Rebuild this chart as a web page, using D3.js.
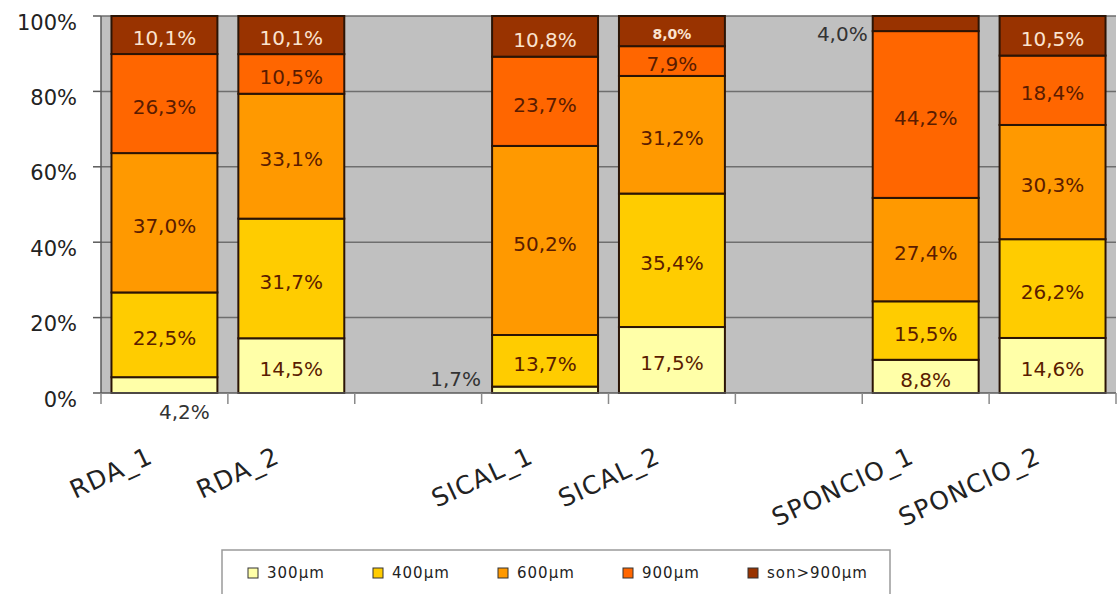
<!DOCTYPE html>
<html>
<head>
<meta charset="utf-8">
<script src="https://cdn.jsdelivr.net/npm/d3@7"></script>
<style>
  html, body { margin: 0; padding: 0; background: #ffffff; }
  svg { display: block; }
</style>
</head>
<body>
<svg id="chart" width="1118" height="594"></svg>
<script>
// Sample groups; null marks an empty slot between groups
const categories = ["RDA_1", "RDA_2", null, "SICAL_1", "SICAL_2", null, "SPONCIO_1", "SPONCIO_2"];

// Share of each particle-size class (%) per sample
const seriesNames = ["300µm", "400µm", "600µm", "900µm", "son>900µm"];
const v300  = [4.2, 14.5, null, 1.7, 17.5, null, 8.8, 14.6];
const v400  = [22.5, 31.7, null, 13.7, 35.4, null, 15.5, 26.2];
const v600  = [37.0, 33.1, null, 50.2, 31.2, null, 27.4, 30.3];
const v900  = [26.3, 10.5, null, 23.7, 7.9, null, 44.2, 18.4];
const vOver = [10.1, 10.1, null, 10.8, 8.0, null, 4.0, 10.5];

const yTicks = [0, 0.2, 0.4, 0.6, 0.8, 1.0];

const seriesColors = ["#FFFFA8", "#FFCC00", "#FF9900", "#FF6600", "#993300"];

// Labels that sit outside their (thin) segment
const outsideLabels = [
  { cat: "RDA_1", key: "300µm", mode: "below", dx: 20, dy: 19 },
  { cat: "SICAL_1", key: "300µm", mode: "left", dx: -11, dy: -11 },
  { cat: "SPONCIO_1", key: "son>900µm", mode: "left", dx: -5, dy: 10 }
];
const smallLabels = [{ cat: "SICAL_2", key: "son>900µm" }];

const svg = d3.select("#chart");
const plot = { left: 101, right: 1116, top: 16, bottom: 393 };
const FONT = "'DejaVu Sans', Verdana, sans-serif";

const valueCols = [v300, v400, v600, v900, vOver];
const rows = categories.map((c, i) => {
  const r = { idx: i, cat: c };
  seriesNames.forEach((k, j) => { r[k] = valueCols[j][i]; });
  return r;
});
const filled = rows.filter(r => r.cat !== null);

const x = d3.scaleBand()
  .domain(d3.range(categories.length))
  .range([plot.left, plot.right])
  .paddingInner(0.165)
  .paddingOuter(0.0825);

const y = d3.scaleLinear().domain([0, 1]).range([plot.bottom, plot.top]);

const stack = d3.stack().keys(seriesNames).offset(d3.stackOffsetExpand);
const layers = stack(filled);

// plot background
svg.append("rect")
  .attr("x", plot.left).attr("y", plot.top)
  .attr("width", plot.right - plot.left)
  .attr("height", plot.bottom - plot.top)
  .attr("fill", "#C0C0C0");

// horizontal gridlines
svg.append("g").selectAll("line")
  .data(yTicks.filter(t => t > 0))
  .join("line")
  .attr("x1", plot.left).attr("x2", plot.right)
  .attr("y1", d => y(d)).attr("y2", d => y(d))
  .attr("stroke", "#6e6e6e").attr("stroke-width", 1.5);

// stacked bars
const fmt = v => d3.format(".1f")(v).replace(".", ",") + "%";

layers.forEach((layer, li) => {
  svg.append("g").selectAll("rect")
    .data(layer)
    .join("rect")
    .attr("x", d => x(d.data.idx))
    .attr("width", x.bandwidth())
    .attr("y", d => y(d[1]))
    .attr("height", d => y(d[0]) - y(d[1]))
    .attr("fill", seriesColors[li])
    .attr("stroke", "#2b1405")
    .attr("stroke-width", 2);
});

// axes
const yAxis = svg.append("g");
yAxis.append("line")
  .attr("x1", plot.left).attr("x2", plot.left)
  .attr("y1", plot.top).attr("y2", plot.bottom)
  .attr("stroke", "#5a5a5a").attr("stroke-width", 1.5);
yAxis.selectAll("line.tick")
  .data(yTicks)
  .join("line")
  .attr("class", "tick")
  .attr("x1", plot.left - 8).attr("x2", plot.left)
  .attr("y1", d => y(d)).attr("y2", d => y(d))
  .attr("stroke", "#5a5a5a").attr("stroke-width", 1.5);
yAxis.selectAll("text")
  .data(yTicks)
  .join("text")
  .attr("x", 77)
  .attr("y", d => y(d) + 6)
  .attr("dy", "0.36em")
  .attr("text-anchor", "end")
  .attr("font-family", FONT)
  .attr("font-size", 21)
  .attr("fill", "#222")
  .text(d => d3.format(".0%")(d));

const xAxis = svg.append("g");
xAxis.append("line")
  .attr("x1", plot.left).attr("x2", plot.right)
  .attr("y1", plot.bottom).attr("y2", plot.bottom)
  .attr("stroke", "#5a5a5a").attr("stroke-width", 1.5);
const step = x.step();
xAxis.selectAll("line.tick")
  .data(d3.range(categories.length + 1))
  .join("line")
  .attr("class", "tick")
  .attr("x1", i => plot.left + i * step)
  .attr("x2", i => plot.left + i * step)
  .attr("y1", plot.bottom).attr("y2", plot.bottom + 11)
  .attr("stroke", "#8a8a8a").attr("stroke-width", 1.5);

// category labels, slanted
xAxis.selectAll("text")
  .data(filled)
  .join("text")
  .attr("transform", d => `translate(${x(d.idx) + x.bandwidth() / 2 - 10},462) rotate(-25)`)
  .attr("text-anchor", "end")
  .attr("font-family", FONT)
  .attr("font-size", 25)
  .attr("letter-spacing", 1.2)
  .attr("fill", "#222")
  .text(d => d.cat);

// value labels
const labelG = svg.append("g");
layers.forEach((layer, li) => {
  const key = layer.key;
  layer.forEach(d => {
    const cat = d.data.cat;
    const val = d.data[key];
    const cx = x(d.data.idx) + x.bandwidth() / 2;
    const cy = (y(d[0]) + y(d[1])) / 2;
    const out = outsideLabels.find(o => o.cat === cat && o.key === key);
    const small = smallLabels.some(o => o.cat === cat && o.key === key);
    const t = labelG.append("text")
      .attr("font-family", FONT)
      .attr("dy", "0.36em")
      .text(fmt(val));
    if (out) {
      if (out.mode === "below") {
        t.attr("x", cx + out.dx).attr("y", plot.bottom + out.dy)
          .attr("text-anchor", "middle");
      } else {
        t.attr("x", x(d.data.idx) + out.dx).attr("y", cy + out.dy)
          .attr("text-anchor", "end");
      }
      t.attr("font-size", 20).attr("fill", "#333");
    } else {
      t.attr("x", cx).attr("y", cy + 3)
        .attr("text-anchor", "middle")
        .attr("font-size", small ? 14 : 20)
        .attr("font-weight", small ? "bold" : "normal")
        .attr("fill", li === seriesNames.length - 1 ? "#FBE3CF" : "#5A1C00");
    }
  });
});

// legend
const legend = svg.append("g");
legend.append("rect")
  .attr("x", 222).attr("y", 550)
  .attr("width", 668).attr("height", 60)
  .attr("fill", "#ffffff")
  .attr("stroke", "#9a9a9a").attr("stroke-width", 1.5);
const item = legend.selectAll("g.item")
  .data(seriesNames)
  .join("g")
  .attr("class", "item")
  .attr("transform", (d, i) => `translate(${248 + i * 125},573)`);
item.append("rect")
  .attr("x", 0).attr("y", -5)
  .attr("width", 10).attr("height", 10)
  .attr("fill", (d, i) => seriesColors[i])
  .attr("stroke", "#333").attr("stroke-width", 1);
item.append("text")
  .attr("x", 19).attr("y", 0)
  .attr("dy", "0.36em")
  .attr("font-family", FONT)
  .attr("font-size", 15)
  .attr("letter-spacing", 1)
  .attr("fill", "#222")
  .text(d => d);
</script>
</body>
</html>
